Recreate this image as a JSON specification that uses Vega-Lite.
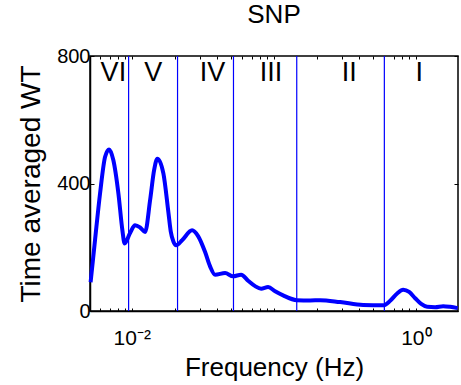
{
  "$schema": "https://vega.github.io/schema/vega-lite/v6.json",
  "width": 368,
  "height": 255,
  "autosize": "none",
  "padding": {"left": 90, "top": 56, "right": 3, "bottom": 74},
  "background": "white",
  "title": {"text": "SNP", "fontSize": 26, "font": "Liberation Sans", "fontWeight": "normal", "offset": 18, "color": "black"},
  "config": {
    "view": {"stroke": "black", "strokeWidth": 1.5},
    "axis": {"grid": false, "domainColor": "black", "domainWidth": 1.5, "tickColor": "black", "labelColor": "black", "titleColor": "black", "labelFont": "Liberation Sans", "titleFont": "Liberation Sans", "titleFontWeight": "normal", "labelOverlap": false, "labelBound": false}
  },
  "datasets": {
    "curve": [
      {"f": 0.00513, "v": 90}, {"f": 0.00551, "v": 222}, {"f": 0.00598, "v": 369}, {"f": 0.00649, "v": 484},
      {"f": 0.00692, "v": 507}, {"f": 0.00742, "v": 473}, {"f": 0.00805, "v": 369}, {"f": 0.00859, "v": 253},
      {"f": 0.0089, "v": 212}, {"f": 0.00973, "v": 245}, {"f": 0.01055, "v": 269}, {"f": 0.01144, "v": 262},
      {"f": 0.01241, "v": 248}, {"f": 0.01346, "v": 348}, {"f": 0.01436, "v": 442}, {"f": 0.01514, "v": 478},
      {"f": 0.01669, "v": 432}, {"f": 0.0181, "v": 310}, {"f": 0.0188, "v": 250}, {"f": 0.01963, "v": 218},
      {"f": 0.02051, "v": 206}, {"f": 0.02261, "v": 222}, {"f": 0.02658, "v": 253}, {"f": 0.0293, "v": 235},
      {"f": 0.03283, "v": 185}, {"f": 0.03559, "v": 140}, {"f": 0.03861, "v": 114}, {"f": 0.04539, "v": 119},
      {"f": 0.05168, "v": 109}, {"f": 0.05886, "v": 114}, {"f": 0.06592, "v": 95}, {"f": 0.07385, "v": 78},
      {"f": 0.08139, "v": 70}, {"f": 0.0912, "v": 75}, {"f": 0.1021, "v": 62}, {"f": 0.1163, "v": 49},
      {"f": 0.1452, "v": 34}, {"f": 0.1802, "v": 33}, {"f": 0.2119, "v": 34}, {"f": 0.2931, "v": 28},
      {"f": 0.4255, "v": 19}, {"f": 0.5886, "v": 18}, {"f": 0.6592, "v": 32}, {"f": 0.7385, "v": 55},
      {"f": 0.8139, "v": 67}, {"f": 0.897, "v": 60}, {"f": 0.9888, "v": 40}, {"f": 1.09, "v": 22},
      {"f": 1.201, "v": 13}, {"f": 1.368, "v": 12}, {"f": 1.557, "v": 15}, {"f": 1.745, "v": 13},
      {"f": 1.97, "v": 9}
    ],
    "bounds": [{"f": 0.0095}, {"f": 0.021}, {"f": 0.052}, {"f": 0.145}, {"f": 0.6}],
    "bands": [
      {"f": 0.00742, "y": 748, "label": "VI"}, {"f": 0.01419, "y": 748, "label": "V"},
      {"f": 0.03707, "y": 748, "label": "IV"}, {"f": 0.0957, "y": 748, "label": "III"},
      {"f": 0.3401, "y": 748, "label": "II"}, {"f": 1.055, "y": 748, "label": "I"}
    ]
  },
  "layer": [
    {
      "data": {"name": "bounds"},
      "mark": {"type": "rule", "color": "#0000ff", "strokeWidth": 1.2},
      "encoding": {
        "x": {"field": "f", "type": "quantitative",
          "scale": {"type": "log", "domain": [0.00508, 1.98], "nice": false},
          "axis": {"orient": "top", "title": null, "labels": false, "domain": false, "tickSize": -3,
            "values": [0.006, 0.007, 0.008, 0.009, 0.01, 0.02, 0.03, 0.04, 0.05, 0.06, 0.07, 0.08, 0.09, 0.1, 0.2, 0.3, 0.4, 0.5, 0.6, 0.7, 0.8, 0.9, 1, 2]}}
      }
    },
    {
      "data": {"name": "curve"},
      "mark": {"type": "line", "color": "#0000ff", "strokeWidth": 4, "interpolate": "monotone"},
      "encoding": {
        "x": {"field": "f", "type": "quantitative",
          "scale": {"type": "log", "domain": [0.00508, 1.98], "nice": false},
          "axis": {"orient": "bottom", "title": "Frequency (Hz)", "titleFontSize": 26, "titlePadding": 6,
            "labelFontSize": 21, "labelPadding": 19, "tickSize": -3,
            "values": [0.006, 0.007, 0.008, 0.009, 0.01, 0.02, 0.03, 0.04, 0.05, 0.06, 0.07, 0.08, 0.09, 0.1, 0.2, 0.3, 0.4, 0.5, 0.6, 0.7, 0.8, 0.9, 1, 2],
            "labelExpr": "datum.value == 0.01 ? '10⁻²' : (datum.value == 1 ? '10⁰' : '')"}},
        "y": {"field": "v", "type": "quantitative",
          "scale": {"domain": [0, 800], "nice": false},
          "axis": {"orient": "left", "title": "Time averaged WT", "titleFontSize": 28, "titlePadding": 11,
            "labelFontSize": 20, "labelPadding": 4, "tickSize": -4, "values": [0, 400, 800]}}
      }
    },
    {
      "data": {"name": "bands"},
      "mark": {"type": "text", "fontSize": 27, "font": "Liberation Sans", "color": "black", "baseline": "middle", "align": "center"},
      "encoding": {
        "x": {"field": "f", "type": "quantitative", "scale": {"type": "log", "domain": [0.00508, 1.98], "nice": false}, "axis": null},
        "y": {"field": "y", "type": "quantitative", "scale": {"domain": [0, 800], "nice": false},
          "axis": {"orient": "right", "title": null, "labels": false, "domain": false, "tickSize": -4, "values": [0, 400, 800]}},
        "text": {"field": "label"}
      }
    }
  ],
  "resolve": {"axis": {"x": "independent", "y": "independent"}}
}
